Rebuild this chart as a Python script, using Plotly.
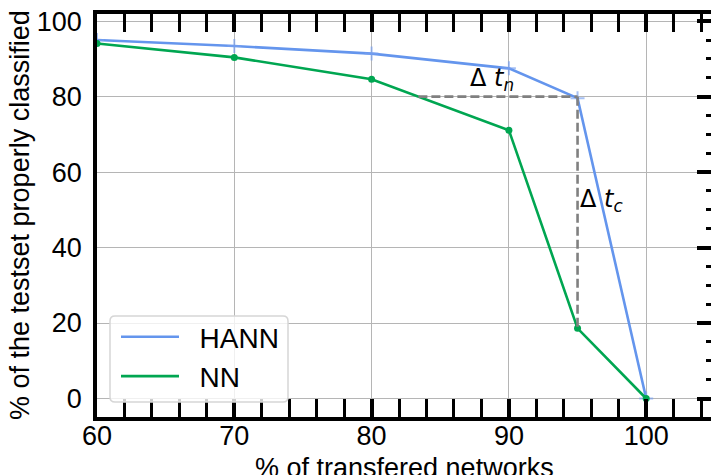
import plotly.graph_objects as go

# Share of transferred networks (x) and share of test set correctly classified (y)
transferred = [60, 70, 80, 90, 95, 100]
hann_acc = [95.0, 93.4, 91.4, 87.5, 79.6, 0.0]
nn_acc = [94.1, 90.4, 84.6, 71.1, 18.6, 0.0]

x_ticks = [60, 70, 80, 90, 100]
y_ticks = [0, 20, 40, 60, 80, 100]
x_minor_step = 2
y_minor_step = 5

threshold = 80          # accuracy level used for the Δ t_n / Δ t_c guides
critical_x = 95         # transfer share where the HANN curve reaches the threshold

HANN_COLOR = "#6495ED"
NN_COLOR = "#00a651"
GRID = "#b5b5b5"
FONT = "Liberation Sans"

W, H = 711, 475
ML, MR, MT, MB = 97, 0, 14, 58
PW, PH = W - ML - MR, H - MT - MB


def px(x):
    return (x - ML) / PW


def py(y):
    return (H - MB - y) / PH


# where the NN curve crosses the threshold (linear between samples)
nn_cross = None
for i in range(len(transferred) - 1):
    a, b = nn_acc[i], nn_acc[i + 1]
    if a >= threshold > b:
        nn_cross = transferred[i] + (transferred[i + 1] - transferred[i]) * (a - threshold) / (a - b)
        break
nn_at_critical = nn_acc[transferred.index(critical_x)]

fig = go.Figure()

# dashed guides (on the right-hand tick axis, which shares the same range)
guide = dict(color="#808080", width=2.6, dash="9px,4px")
fig.add_trace(go.Scatter(x=[nn_cross, critical_x], y=[threshold, threshold], mode="lines",
                         line=guide, showlegend=False, hoverinfo="skip", yaxis="y2"))
fig.add_trace(go.Scatter(x=[critical_x, critical_x], y=[threshold, nn_at_critical], mode="lines",
                         line=guide, showlegend=False, hoverinfo="skip", yaxis="y2"))

# curves (legend entries show the line only)
fig.add_trace(go.Scatter(x=transferred, y=hann_acc, name="&nbsp;&nbsp;HANN", mode="lines",
                         line=dict(color=HANN_COLOR, width=2.6), legendgroup="hann"))
fig.add_trace(go.Scatter(x=transferred, y=nn_acc, name="&nbsp;&nbsp;NN", mode="lines",
                         line=dict(color=NN_COLOR, width=2.6), legendgroup="nn"))
# sample markers
fig.add_trace(go.Scatter(x=transferred, y=hann_acc, mode="markers", showlegend=False,
                         legendgroup="hann",
                         marker=dict(symbol="cross-thin", size=10,
                                     line=dict(color="rgba(120,160,240,0.65)", width=2))))
fig.add_trace(go.Scatter(x=transferred, y=nn_acc, mode="markers", showlegend=False,
                         legendgroup="nn",
                         marker=dict(symbol="circle", size=7, color=NN_COLOR)))

x_range = [60, 60 + PW / 13.73]
y_range = [-4.9, 101.9]

fig.update_layout(
    width=W, height=H, autosize=False,
    margin=dict(l=ML, r=MR, t=MT, b=MB, pad=0),
    paper_bgcolor="white", plot_bgcolor="white",
    font=dict(family=FONT, size=27, color="black"),
    showlegend=True,
    legend=dict(
        x=px(116), y=py(312),
        xanchor="left", yanchor="top",
        bgcolor="rgba(0,0,0,0)", borderwidth=0,
        font=dict(family=FONT, size=28, color="black"),
        itemwidth=58, tracegroupgap=0),
    xaxis=dict(
        range=x_range, tickmode="linear", tick0=x_ticks[0], dtick=x_ticks[1] - x_ticks[0],
        showgrid=True, gridcolor=GRID, gridwidth=1.3,
        zeroline=False, showline=True, linecolor="black", linewidth=3.5,
        mirror="allticks", ticks="inside", ticklen=18, tickwidth=3.5, tickcolor="black",
        minor=dict(tick0=x_ticks[0], dtick=x_minor_step, ticks="inside", ticklen=9,
                   tickwidth=2.5, tickcolor="black", showgrid=False),
        tickfont=dict(size=27), ticklabelstandoff=-8,
        automargin=False),
    # left axis: labels, grid and spine only
    yaxis=dict(
        range=y_range, tickmode="linear", tick0=y_ticks[0], dtick=y_ticks[1] - y_ticks[0],
        showgrid=True, gridcolor=GRID, gridwidth=1.3,
        zeroline=False, showline=True, linecolor="black", linewidth=3.5,
        mirror=False, ticks="",
        tickfont=dict(size=27), ticklabelstandoff=6,
        automargin=False),
    # right axis: inward tick marks only
    yaxis2=dict(
        range=y_range, overlaying="y", side="right", anchor="x",
        tickmode="linear", tick0=y_ticks[0], dtick=y_ticks[1] - y_ticks[0],
        showticklabels=False, showgrid=False, zeroline=False, showline=False,
        ticks="inside", ticklen=14, tickwidth=3.5, tickcolor="black",
        minor=dict(tick0=y_ticks[0], dtick=y_minor_step, ticks="inside", ticklen=5,
                   tickwidth=2.5, tickcolor="black", showgrid=False),
        automargin=False),
)

# axis titles
fig.add_annotation(text="% of transfered networks", xref="paper", yref="paper",
                   x=0.5, y=py(451), xanchor="center", yanchor="top", showarrow=False,
                   font=dict(family=FONT, size=27, color="black"))
fig.add_annotation(text="% of the testset properly classified", xref="paper", yref="paper",
                   x=px(20), y=py(215), xanchor="center", yanchor="middle", textangle=-90,
                   showarrow=False, font=dict(family=FONT, size=27, color="black"))

# rounded legend frame
x0, x1, y0, y1, r = 110, 288, 316, 402, 5
pts = [("M", x0 + r, y0), ("L", x1 - r, y0), ("Q", x1, y0), ("", x1, y0 + r),
       ("L", x1, y1 - r), ("Q", x1, y1), ("", x1 - r, y1), ("L", x0 + r, y1),
       ("Q", x0, y1), ("", x0, y1 - r), ("L", x0, y0 + r), ("Q", x0, y0), ("", x0 + r, y0)]
path = " ".join(f"{c} {px(a):.5f},{py(b):.5f}".strip() for c, a, b in pts) + " Z"
fig.add_shape(type="path", path=path, xref="paper", yref="paper",
              fillcolor="rgba(255,255,255,0.8)", line=dict(color="#d6d6d6", width=1.5),
              layer="above")

# Δ annotations
delta_font = dict(family="DejaVu Sans", size=24, color="black")
fig.add_annotation(x=87.0, y=84.6, xref="x", yref="y", xanchor="left", yanchor="middle",
                   text="Δ <i>t</i><sub><i>n</i></sub>", showarrow=False, font=delta_font)
fig.add_annotation(x=95.05, y=52.6, xref="x", yref="y", xanchor="left", yanchor="middle",
                   text="Δ <i>t</i><sub><i>c</i></sub>", showarrow=False, font=delta_font)

fig.write_html("out.html")
